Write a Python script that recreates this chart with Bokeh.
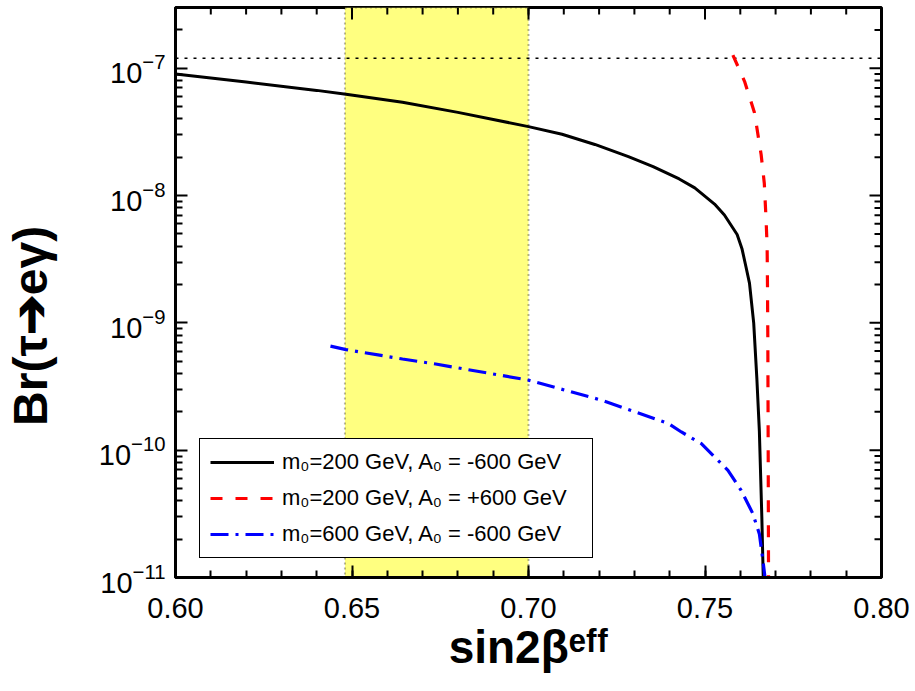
import numpy as np
from bokeh.plotting import figure
from bokeh.models import (Range1d, FixedTicker, BoxAnnotation, Span,
                          Legend, LegendItem, PrintfTickFormatter)
from bokeh.embed import file_html
from bokeh.resources import INLINE

# ---- data ----
x_black = [0.600, 0.620, 0.640, 0.6483, 0.6643, 0.680, 0.700, 0.7095, 0.7188, 0.7283, 0.7353,
           0.7427, 0.7471, 0.7527, 0.7555, 0.7591, 0.7605, 0.7616, 0.7626, 0.7638, 0.7647,
           0.7654, 0.7661, 0.7665]
y_black = [9.0e-8, 7.8e-8, 6.7e-8, 6.25e-8, 5.4e-8, 4.5e-8, 3.48e-8, 3.03e-8, 2.52e-8, 2.02e-8,
           1.69e-8, 1.35e-8, 1.15e-8, 8.57e-9, 7.03e-9, 4.94e-9, 3.8e-9, 2.76e-9, 2.05e-9,
           9.95e-10, 3.61e-10, 1.41e-10, 2.98e-11, 1.0e-11]

x_red = [0.7579, 0.7612, 0.7640, 0.7659, 0.7668, 0.7673, 0.7676, 0.7677, 0.7678, 0.7679, 0.7680]
y_red = [1.27e-7, 7.9e-8, 4.5e-8, 2.1e-8, 1.25e-8, 6.5e-9, 4.0e-9, 2.0e-9, 7.3e-10, 1.0e-10, 1.0e-11]

x_blue = [0.6439, 0.6483, 0.6643, 0.6737, 0.700, 0.7207, 0.7396, 0.7433, 0.7489, 0.7527,
          0.7565, 0.7602, 0.7635, 0.7654, 0.7663, 0.7670]
y_blue = [6.56e-10, 6.17e-10, 5.2e-10, 4.75e-10, 3.55e-10, 2.47e-10, 1.62e-10, 1.39e-10, 1.13e-10,
          8.85e-11, 6.95e-11, 4.85e-11, 3.2e-11, 2.2e-11, 1.44e-11, 1.0e-11]

labels = ["m\u2080=200 GeV, A\u2080 = -600 GeV",
          "m\u2080=200 GeV, A\u2080 = +600 GeV",
          "m\u2080=600 GeV, A\u2080 = -600 GeV"]
x_title = "sin2\u03b2\u1d49\u1da0\u1da0"
y_title = "Br(\u03c4\u2794e\u03b3)" + "\u00a0" * 5

band_low, band_high = 0.648, 0.700
br_limit = 1.2e-7

x_lo, x_hi = 0.60, 0.80
y_lo, y_hi = 1e-11, 3e-7
x_ticks = [0.60, 0.65, 0.70, 0.75, 0.80]
x_minor = [round(0.60 + 0.01 * i, 2) for i in range(21)]
y_ticks = [1e-11, 1e-10, 1e-9, 1e-8, 1e-7]
y_minor = [k * 10.0 ** e for e in range(-11, -6) for k in range(2, 10) if k * 10.0 ** e <= y_hi]

FONT = "Liberation Sans"

p = figure(width=915, height=691, output_backend="svg", toolbar_location=None,
           x_range=Range1d(x_lo, x_hi), y_range=Range1d(y_lo, y_hi), y_axis_type="log",
           min_border_left=172, min_border_right=34, min_border_top=7, min_border_bottom=114)
p.xgrid.visible = False
p.ygrid.visible = False
p.outline_line_color = "black"
p.outline_line_width = 3
p.background_fill_color = "white"
p.border_fill_color = "white"

band = BoxAnnotation(left=band_low, right=band_high, fill_color="#ffff80", fill_alpha=1.0,
                     line_color="black", line_width=2, line_dash="2 3", level="underlay")
p.add_layout(band)
limit = Span(location=br_limit, dimension="width", line_color="black", line_width=1.5,
             line_dash="3 6", level="underlay")
p.add_layout(limit)

r1 = p.line(x_black, y_black, line_color="black", line_width=3)
r2 = p.line(x_red, y_red, line_color="#ff0000", line_width=3.2, line_dash="12 13")
r3 = p.line(x_blue, y_blue, line_color="#0000ff", line_width=3.2, line_dash="18 7 3 7")

for ax, standoff in ((p.xaxis[0], 20), (p.yaxis[0], 10)):
    ax.axis_line_width = 3
    ax.axis_line_color = "black"
    ax.major_tick_in = 12
    ax.major_tick_out = 0
    ax.minor_tick_in = 7
    ax.minor_tick_out = 0
    ax.major_tick_line_width = 2
    ax.minor_tick_line_width = 2
    ax.major_tick_line_color = "black"
    ax.minor_tick_line_color = "black"
    ax.major_label_text_font = FONT
    ax.major_label_text_font_size = "29px"
    ax.major_label_text_color = "black"
    ax.major_label_standoff = standoff
    ax.axis_label_text_font = FONT
    ax.axis_label_text_font_style = "bold"
    ax.axis_label_text_font_size = "46px"
    ax.axis_label_text_color = "black"

p.xaxis.ticker = FixedTicker(ticks=x_ticks, minor_ticks=x_minor)
p.xaxis.formatter = PrintfTickFormatter(format="%.2f")
p.yaxis.ticker = FixedTicker(ticks=y_ticks, minor_ticks=y_minor)
p.xaxis.axis_label = x_title
p.xaxis.axis_label_standoff = 0
p.yaxis.axis_label = y_title
p.yaxis.axis_label_standoff = 39
p.yaxis.axis_label_text_font_size = "48px"

# mirrored ticks on the top and right edges of the frame
p.ray(x=x_ticks, y=[y_hi] * len(x_ticks), length=12, length_units="screen",
      angle=-np.pi / 2, line_color="black", line_width=2)
p.ray(x=x_minor, y=[y_hi] * len(x_minor), length=7, length_units="screen",
      angle=-np.pi / 2, line_color="black", line_width=2)
p.ray(x=[x_hi] * len(y_ticks), y=y_ticks, length=12, length_units="screen",
      angle=np.pi, line_color="black", line_width=2)
p.ray(x=[x_hi] * len(y_minor), y=y_minor, length=7, length_units="screen",
      angle=np.pi, line_color="black", line_width=2)

legend = Legend(items=[LegendItem(label=labels[0], renderers=[r1]),
                       LegendItem(label=labels[1], renderers=[r2]),
                       LegendItem(label=labels[2], renderers=[r3])],
                location=(24, 19), padding=10, spacing=10, glyph_width=64, glyph_height=22,
                label_standoff=8, label_width=300, label_height=22,
                label_text_font=FONT, label_text_font_size="22px", label_text_color="black",
                border_line_color="black", border_line_width=1.2, border_line_alpha=1.0,
                background_fill_color="white", background_fill_alpha=1.0)
p.add_layout(legend)

open("out.html", "w").write(file_html(p, INLINE))
